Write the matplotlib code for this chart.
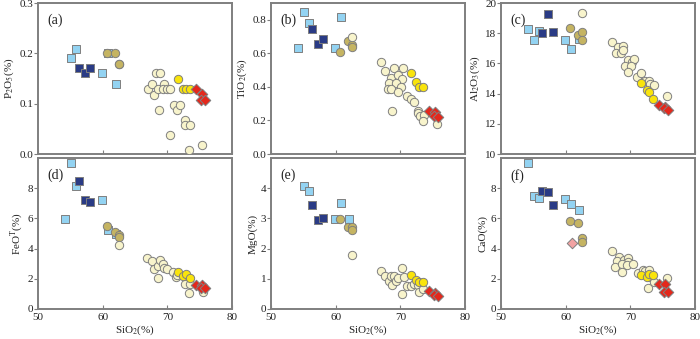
import numpy as np
import matplotlib
matplotlib.use("Agg")
import matplotlib.pyplot as plt

plt.rcParams['font.family'] = ['Liberation Serif', 'DejaVu Serif']
plt.rcParams['mathtext.fontset'] = 'stix'
plt.rcParams['font.size'] = 8

nan = np.nan

# light blue squares
lb_si = [54.1, 55.1, 55.8, 59.9, 60.9, 62.1]
lb_p = [nan, 0.19, 0.209, 0.16, 0.20, 0.14]
lb_ti = [0.631, 0.844, 0.778, 0.631, 0.818, nan]
lb_al = [18.25, 17.53, 18.16, 17.53, 16.97, 17.6]
lb_fe = [5.94, 9.69, 8.16, 7.24, 5.2, 4.98]
lb_mg = [nan, 4.08, 3.9, 2.99, 3.52, 2.97]
lb_ca = [9.65, 7.46, 7.35, 7.3, 6.97, 6.58]

# dark blue squares
db_si = [56.3, 57.3, 58.0]
db_p = [0.17, 0.16, 0.17]
db_ti = [0.744, 0.655, 0.683]
db_al = [18.0, 19.25, 18.1]
db_fe = [8.5, 7.25, 7.08]
db_mg = [3.45, 2.95, 3.0]
db_ca = [7.8, 7.72, 6.88]

# olive circles
ol_si = [60.7, 61.9, 62.6, 62.6]
ol_p = [0.20, 0.20, 0.179, 0.179]
ol_ti = [0.611, 0.675, 0.651, 0.64]
ol_al = [18.36, 17.85, 18.09, 17.53]
ol_fe = [5.5, 5.1, 4.9, 4.75]
ol_mg = [2.98, 2.72, 2.7, 2.62]
ol_ca = [5.85, 5.72, 4.72, 4.45]

# cream circles (per panel)
cr_a_x = [67.0, 67.6, 68.0, 68.3, 68.9, 68.5, 69.5, 69.3, 70.0, 70.4, 68.7, 71.0, 71.5, 72.0, 70.4, 72.7, 72.8, 73.5, 73.3, 75.4]
cr_a_y = [0.129, 0.14, 0.118, 0.16, 0.16, 0.129, 0.14, 0.129, 0.129, 0.129, 0.088, 0.098, 0.088, 0.098, 0.037, 0.067, 0.057, 0.057, 0.007, 0.017]
cr_b_x = [62.6, 67.0, 67.7, 69.0, 68.6, 69.6, 70.2, 70.4, 68.3, 69.4, 68.1, 68.6, 70.1, 69.7, 71.0, 71.6, 72.1, 68.7, 72.8, 72.8, 73.0, 73.6, 73.5, 75.6]
cr_b_y = [0.695, 0.55, 0.492, 0.51, 0.453, 0.472, 0.447, 0.51, 0.421, 0.421, 0.389, 0.389, 0.401, 0.369, 0.347, 0.328, 0.308, 0.256, 0.258, 0.242, 0.226, 0.234, 0.199, 0.179]
cr_c_x = [62.6, 67.1, 68.1, 68.8, 67.8, 68.5, 68.9, 69.7, 70.25, 70.6, 69.1, 70.05, 69.6, 71.1, 71.7, 72.2, 72.9, 73.1, 73.7, 75.6]
cr_c_y = [19.37, 17.4, 17.06, 17.13, 16.68, 16.68, 16.86, 16.23, 16.1, 16.28, 15.83, 15.83, 15.45, 15.07, 15.34, 14.84, 14.84, 14.66, 14.57, 13.83]
cr_d_x = [62.5, 66.9, 67.6, 68.0, 68.5, 68.9, 69.3, 69.5, 70.0, 70.9, 71.4, 71.5, 68.6, 72.7, 73.3, 73.5, 75.5]
cr_d_y = [4.26, 3.36, 3.18, 2.62, 2.85, 3.25, 2.96, 2.74, 2.65, 2.42, 2.09, 2.24, 2.02, 1.68, 1.08, 1.68, 1.12]
cr_e_x = [62.6, 67.0, 67.7, 68.2, 68.6, 69.0, 68.7, 69.4, 69.7, 70.2, 70.5, 70.3, 71.0, 71.6, 72.1, 72.8, 72.9, 73.5]
cr_e_y = [1.79, 1.27, 1.08, 0.94, 1.08, 1.08, 0.78, 0.94, 1.03, 1.36, 1.07, 0.51, 0.75, 0.75, 0.82, 0.78, 0.56, 0.67]
cr_f_x = [67.1, 68.3, 67.9, 69.0, 69.7, 69.6, 67.7, 68.7, 69.5, 70.4, 68.7, 71.2, 71.95, 72.2, 72.9, 73.0, 73.6, 72.8, 75.6]
cr_f_y = [3.86, 3.46, 3.2, 3.25, 3.4, 3.11, 2.81, 2.96, 2.89, 2.96, 2.46, 2.37, 2.59, 2.52, 2.59, 2.1, 1.78, 1.38, 2.04]

# yellow circles
ye_si = [71.6, 72.5, 72.9, 73.5]
ye_p = [0.149, 0.129, 0.129, 0.129]
ye_ti = [0.484, 0.429, 0.401, 0.401]
ye_al = [14.7, 14.26, 14.1, 13.63]
ye_fe = [2.47, 2.17, 2.3, 2.02]
ye_mg = [1.11, 0.96, 0.91, 0.89]
ye_ca = [2.26, 2.15, 2.32, 2.26]

# red diamonds
rd_si = [74.5, 75.3, 75.2, 75.9]
rd_p = [0.129, 0.12, 0.108, 0.108]
rd_ti = [0.258, 0.25, 0.228, 0.218]
rd_al = [13.25, 13.14, 13.05, 12.94]
rd_fe = [1.57, 1.61, 1.39, 1.39]
rd_mg = [0.58, 0.52, 0.47, 0.43]
rd_ca = [1.64, 1.64, 1.1, 1.1]

# pink diamond (CaO panel only)
pk_si = [61.0]
pk_ca = [4.34]

panels = [
    ("(a)", r"P$_2$O$_5$(%)", (0, 0.3), [0.0, 0.1, 0.2, 0.3], "%.1f", lb_p, db_p, ol_p, cr_a_x, cr_a_y, ye_p, rd_p),
    ("(b)", r"TiO$_2$(%)", (0, 0.9), [0.0, 0.2, 0.4, 0.6, 0.8], "%.1f", lb_ti, db_ti, ol_ti, cr_b_x, cr_b_y, ye_ti, rd_ti),
    ("(c)", r"Al$_2$O$_3$(%)", (10, 20), [10, 12, 14, 16, 18, 20], "%d", lb_al, db_al, ol_al, cr_c_x, cr_c_y, ye_al, rd_al),
    ("(d)", r"FeO$^{\rm T}$(%)", (0, 10), [0, 2, 4, 6, 8], "%d", lb_fe, db_fe, ol_fe, cr_d_x, cr_d_y, ye_fe, rd_fe),
    ("(e)", "MgO(%)", (0, 5), [0, 1, 2, 3, 4], "%d", lb_mg, db_mg, ol_mg, cr_e_x, cr_e_y, ye_mg, rd_mg),
    ("(f)", "CaO(%)", (0, 10), [0, 2, 4, 6, 8], "%d", lb_ca, db_ca, ol_ca, cr_f_x, cr_f_y, ye_ca, rd_ca),
]

fig = plt.figure(figsize=(7, 3.39), dpi=100)
lefts = [38 / 700, 271 / 700, 501 / 700]
bottoms = [0.5457, 0.0885]
w, h = 194 / 700, 0.4454

edge = '#7f7f7f'
txt = '#222222'
ms = 36
for i, (lab, ylab, ylim, yt, fmt, lb, db, ol, crx, cry, ye, rd) in enumerate(panels):
    row, col = i // 3, i % 3
    ax = fig.add_axes([lefts[col], bottoms[row], w, h])
    ax.scatter(lb_si, lb, marker='s', s=ms, c='#93d3f2', edgecolors=edge, linewidths=0.7, zorder=3)
    ax.scatter(db_si, db, marker='s', s=ms, c='#2a3b85', edgecolors=edge, linewidths=0.7, zorder=3)
    ax.scatter(ol_si, ol, marker='o', s=ms, c='#c5b462', edgecolors=edge, linewidths=0.7, zorder=3)
    ax.scatter(crx, cry, marker='o', s=ms, c='#f8f4cc', edgecolors=edge, linewidths=0.7, zorder=3)
    ax.scatter(ye_si, ye, marker='o', s=ms, c='#f9e40c', edgecolors=edge, linewidths=0.7, zorder=3)
    ax.scatter(rd_si, rd, marker='D', s=ms * 0.8, c='#e4281c', edgecolors=edge, linewidths=0.7, zorder=3)
    if lab == "(f)":
        ax.scatter(pk_si, pk_ca, marker='D', s=ms * 0.8, c='#f2a3a3', edgecolors=edge, linewidths=0.7, zorder=3)
    ax.set_xlim(50, 80)
    ax.set_ylim(*ylim)
    ax.set_xticks([50, 60, 70, 80])
    ax.set_yticks(yt)
    ax.set_yticklabels([fmt % v for v in yt])
    ax.tick_params(axis='x', direction='in', length=3, color=edge, labelcolor=txt, pad=3)
    ax.tick_params(axis='y', direction='out', length=3, color=edge, labelcolor=txt, pad=0.5)
    for s in ax.spines.values():
        s.set_color(edge)
        s.set_linewidth(1.4)
    if row == 0:
        ax.tick_params(axis='x', labelbottom=False)
    else:
        ax.set_xlabel(r"SiO$_2$(%)", color=txt, labelpad=1)
    ax.set_ylabel(ylab, color=txt, labelpad=2)
    ax.text(0.05, 0.93, lab, transform=ax.transAxes, fontsize=10, va='top', ha='left', color=txt)

fig.savefig("out.png", dpi=100)
